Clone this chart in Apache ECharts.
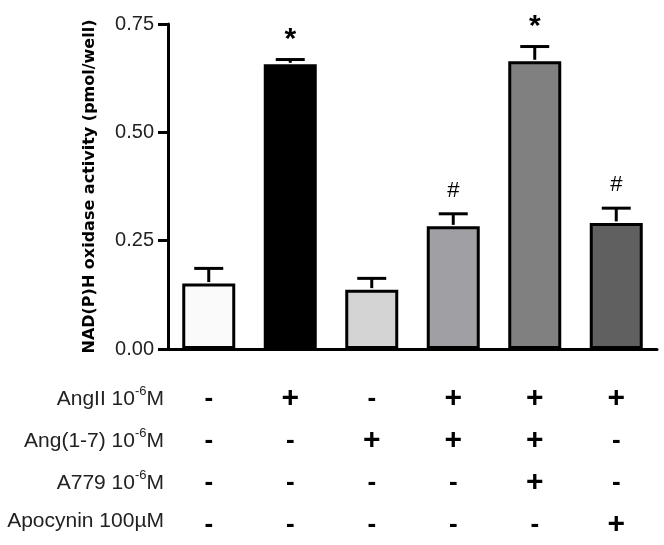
<!DOCTYPE html>
<html>
<head>
<meta charset="utf-8">
<script src="https://cdn.jsdelivr.net/npm/echarts@6/dist/echarts.min.js"></script>
<style>html,body{margin:0;padding:0;background:#fff;}#c{width:664px;height:545px;}</style>
</head>
<body>
<div id="c"></div>
<script>
// ---- data ----
var groups = ['G1', 'G2', 'G3', 'G4', 'G5', 'G6'];
var means = [0.151, 0.657, 0.137, 0.283, 0.664, 0.291];
var sems = [0.035, 0.011, 0.026, 0.029, 0.034, 0.034];
var marks = ['', '*', '', '#', '*', '#'];
var barColors = ['#fafafa', '#000000', '#d4d4d4', '#a0a0a4', '#808080', '#606060'];
var yTicks = [0, 0.25, 0.5, 0.75];
var yTitle = 'NAD(P)H oxidase activity (pmol/well)';
var rowLabels = ['AngII 10{s|-6}M', 'Ang(1-7) 10{s|-6}M', 'A779 10{s|-6}M', 'Apocynin 100\u00b5M'];
var angII   = ['-', '+', '-', '+', '+', '+'];
var ang17   = ['-', '-', '+', '+', '+', '-'];
var a779    = ['-', '-', '-', '-', '+', '-'];
var apocyn  = ['-', '-', '-', '-', '-', '+'];
var rows = [angII, ang17, a779, apocyn];

var chart = echarts.init(document.getElementById('c'));
var rowTop = 378, rowH = 42;

var graphics = rowLabels.map(function (t, i) {
  return {
    type: 'text',
    right: 664 - 164,
    top: rowTop + i * rowH + 7,
    style: {
      text: t,
      fill: '#222',
      font: '21px "Liberation Sans", Arial, sans-serif',
      rich: {
        s: { fontSize: 13, fontFamily: '"Liberation Sans", Arial', fill: '#222', verticalAlign: 'top', lineHeight: 28 }
      },
      textAlign: 'right'
    }
  };
});

chart.setOption({
  animation: false,
  backgroundColor: '#fff',
  grid: { left: 168, right: 7, top: 24, bottom: 196 },
  xAxis: {
    type: 'category',
    data: groups,
    axisLine: { lineStyle: { color: '#000', width: 3 } },
    axisTick: { show: false },
    axisLabel: {
      margin: 29,
      interval: 0,
      formatter: function (v, idx) {
        return rows.map(function (r) { return r[idx] === '+' ? '{p|+}' : '{m|-}'; }).join('\n');
      },
      rich: {
        p: { fontSize: 30, fontWeight: 'bold', fontFamily: '"Liberation Sans", Arial', color: '#000', lineHeight: 42 },
        m: { fontSize: 26, fontWeight: 'bold', fontFamily: '"Liberation Sans", Arial', color: '#000', lineHeight: 42 }
      }
    }
  },
  yAxis: {
    type: 'value',
    min: 0, max: 0.75, interval: 0.25,
    name: yTitle,
    nameLocation: 'middle',
    nameGap: 70,
    nameTextStyle: { fontSize: 16, fontWeight: 'bold', color: '#000', fontFamily: '"DejaVu Sans", sans-serif' },
    axisLine: { show: true, lineStyle: { color: '#000', width: 3 } },
    axisTick: { show: true, length: 10, lineStyle: { color: '#000', width: 3 } },
    splitLine: { show: false },
    axisLabel: {
      margin: 14,
      color: '#222',
      fontSize: 20,
      fontFamily: '"Liberation Sans", Arial',
      formatter: function (v) { return v.toFixed(2); }
    }
  },
  series: [
    {
      type: 'bar',
      data: means.map(function (m, i) {
        return { value: m, itemStyle: { color: barColors[i] } };
      }),
      barWidth: 53,
      itemStyle: { borderColor: '#000', borderWidth: 3 },
      z: 2
    },
    {
      type: 'custom',
      data: means.map(function (m, i) { return [i, m, sems[i]]; }),
      z: 3,
      renderItem: function (params, api) {
        var i = api.value(0), m = api.value(1), e = api.value(2);
        var base = api.coord([i, m]);
        var top = api.coord([i, m + e]);
        var half = 14.5;
        var children = [
          { type: 'line', shape: { x1: base[0], y1: base[1] - 1.5, x2: top[0], y2: top[1] }, style: { stroke: '#000', lineWidth: 3 } },
          { type: 'line', shape: { x1: top[0] - half, y1: top[1], x2: top[0] + half, y2: top[1] }, style: { stroke: '#000', lineWidth: 3 } }
        ];
        var mk = marks[params.dataIndex];
        if (mk) {
          children.push({
            type: 'text',
            style: {
              text: mk,
              x: top[0],
              y: mk === '*' ? top[1] - 5 : top[1] - 12,
              textAlign: 'center',
              textVerticalAlign: 'bottom',
              fill: '#000',
              font: mk === '*' ? 'bold 30px "Liberation Sans", Arial' : '22px "Liberation Sans", Arial'
            }
          });
        }
        return { type: 'group', children: children };
      }
    }
  ],
  graphic: graphics
});
</script>
</body>
</html>
